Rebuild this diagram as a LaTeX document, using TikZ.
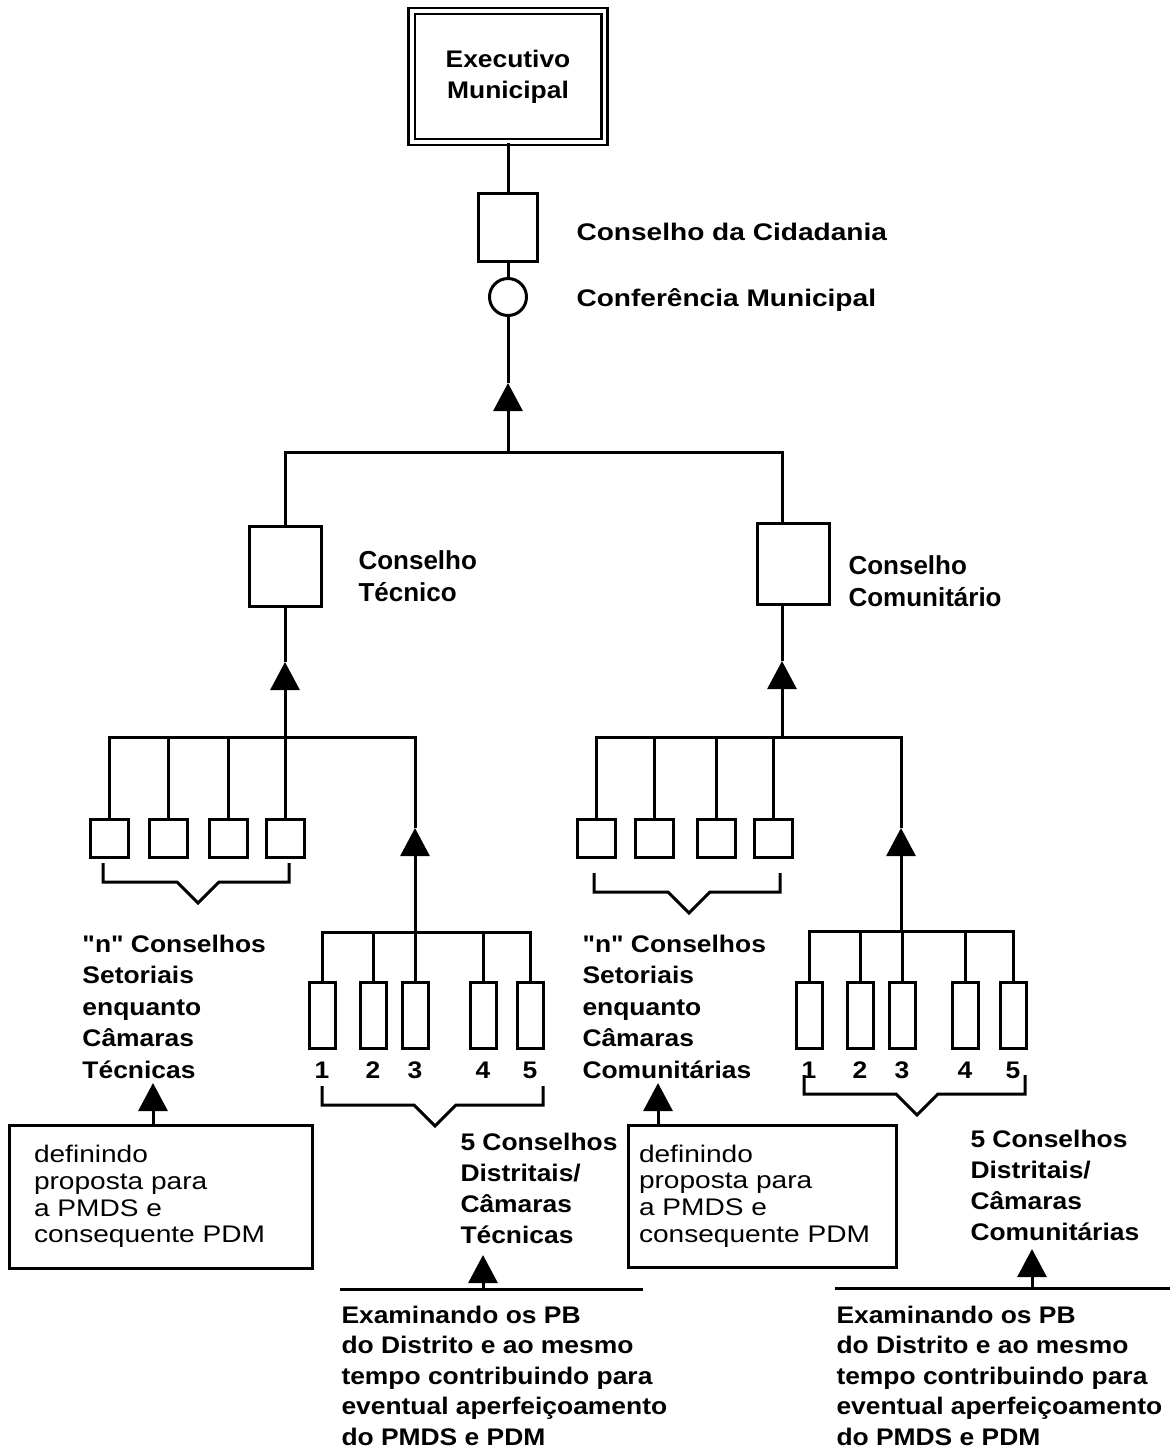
\documentclass[tikz,border=0pt]{standalone}
\usepackage{fontspec}
\setmainfont{Liberation Sans}[FakeStretch=1.1,Ligatures=TeXOff]
\newfontfamily\widefont{Liberation Sans}[FakeStretch=1.17,Ligatures=TeXOff]
\newfontfamily\flatfont{Liberation Sans}[Ligatures=TeXOff]
\usetikzlibrary{arrows.meta,positioning}

\tikzset{
  ubox/.style={draw, inner sep=0pt},
  cbox/.style={ubox, minimum width=36pt, minimum height=40pt},
  sbox/.style={ubox, minimum size=19pt},
  dbox/.style={ubox, minimum width=13pt, minimum height=33pt},
  headlbl/.style={font=\widefont\bfseries\fontsize{12}{15}\selectfont, inner sep=0pt, anchor=base west},
  cnslbl/.style={font=\flatfont\bfseries\fontsize{13}{16}\selectfont, align=left, anchor=north west, inner sep=0pt},
  lbl/.style={font=\bfseries\fontsize{12}{#1}\selectfont, align=left, anchor=north west, inner sep=0pt},
  lbl/.default=15.5pt,
  deftxt/.style={font=\widefont\fontsize{12}{13.35}\selectfont, align=left, inner sep=0pt},
  num/.style={font=\bfseries\fontsize{12}{14}\selectfont, inner sep=0pt},
  tipup/.style={-{Triangle[length=14pt,width=14.5pt]}}
}

\begin{document}
\begin{tikzpicture}[x=0.5pt,y=-0.5pt,line width=1.5pt]
\useasboundingbox (0,0) rectangle (1173,1453);
% --- top: executivo, conselho da cidadania, conferencia
\node[draw,double,double distance=1.8pt,line width=1.3pt,minimum width=96.3pt,minimum height=65.5pt,
  align=center,font=\bfseries\fontsize{12}{15.5}\selectfont] (exec) at (508,76.5) {Executivo\\Municipal\vphantom{y}};
\node[ubox,minimum width=29.5pt,minimum height=34pt] (cid) at (508,227) {};
\node[ubox,circle,minimum size=18.5pt] (conf) at (508,297) {};
\node[headlbl] (cidl) at (575,240) {Conselho da Cidadania};
\node[headlbl] (confl) at (575,306.7) {Conferência Municipal};
\draw (exec) -- (cid);
\draw (cid) -- (conf);
\coordinate (jT) at (508,452);
\coordinate (aT) at (508,383);
\coordinate (jC) at (782,452);
\draw[tipup] (jT) -- (aT);
\draw (aT) -- (conf);
% --- the two councils
\node[cbox] (tec) at (285,566) {};
\node[cbox,minimum height=40.5pt] (com) at (793,563.5) {};
\node[cnslbl] (tecl) at (357,548.7) {Conselho\\Técnico};
\node[cnslbl] (coml) at (847,553.7) {Conselho\\Comunitário};
\draw (tec.north) |- (jC) -- (com.north -| jC);
% --- left branch
\foreach \i/\x in {1/109,2/168,3/228,4/285} \node[sbox] (s\i) at (\x,838) {};
\coordinate (bL) at (415,737);
\coordinate (aL) at (285,662);
\coordinate (aL2) at (415,828);
\coordinate (dL) at (415,932);
\draw (s1.north) |- (bL) -- (aL2);
\foreach \i in {2,3} \draw (s\i.north) -- (s\i.north |- bL);
\draw[tipup] (s4.north) -- (aL);
\draw (aL) -- (tec.south);
\foreach \i/\x in {1/322,2/373,3/415,4/483,5/530}{
  \node[dbox] (d\i) at (\x,1015) {};
  \node[num,below=5.5pt of d\i] (nd\i) {\i};
}
\draw (d1.north) |- (dL) -| (d5.north);
\foreach \i in {2,3,4} \draw (d\i.north) -- (d\i.north |- dL);
\draw[tipup] (dL) -- (aL2);
% --- right branch
\foreach \i/\x in {1/596,2/654,3/716,4/773} \node[sbox] (c\i) at (\x,838) {};
\coordinate (jR) at (782,737);
\coordinate (aR) at (782,661);
\coordinate (bR) at (901,737);
\coordinate (aR2) at (901,828);
\coordinate (dR) at (901,931);
\draw[tipup] (jR) -- (aR);
\draw (aR) -- (com.south -| jR);
\draw (c1.north) |- (bR) -- (aR2);
\foreach \i in {2,3,4} \draw (c\i.north) -- (c\i.north |- bR);
\foreach \i/\x in {1/809,2/860,3/902,4/965,5/1013}{
  \node[dbox] (e\i) at (\x,1015) {};
  \node[num,below=5.5pt of e\i] (ne\i) {\i};
}
\draw (e1.north) |- (dR) -| (e5.north);
\foreach \i in {2,3,4} \draw (e\i.north) -- (e\i.north |- dR);
\draw[tipup] (dR) -- (aR2);
% --- group brackets
\foreach \l/\m/\r/\t in {103/198/289/863,322/435/543/1086,594/689/780/873,804/917/1025/1075}
  \draw (\l,\t) -- (\l,\t+19) -- (\m-21,\t+19) -- (\m,\t+40) -- (\m+21,\t+19) -- (\r,\t+19) -- (\r,\t);
% --- texts of the groups
\node[lbl=15.75pt] (nsL) at (81,933.4) {"n" Conselhos\\Setoriais\\enquanto\\Câmaras\\Técnicas};
\node[lbl=15.75pt] (nsR) at (581,933.4) {"n" Conselhos\\Setoriais\\enquanto\\Câmaras\\Comunitárias};
\node[lbl] (cdL) at (459,1131.4) {5 Conselhos\\Distritais/\\Câmaras\\Técnicas};
\node[lbl] (cdR) at (969,1128.4) {5 Conselhos\\Distritais/\\Câmaras\\Comunitárias};
% --- definindo boxes
\node[ubox,minimum width=151.5pt,minimum height=71.5pt] (defL) at (160.5,1196.5) {};
\node[deftxt,right=12.5pt of defL.west] (tdL) {definindo\\proposta para\\a PMDS e\\consequente PDM};
\node[ubox,minimum width=134pt,minimum height=71pt] (defR) at (762,1196) {};
\node[deftxt,right=5.5pt of defR.west] (tdR) {definindo\\proposta para\\a PMDS e\\consequente PDM};
\coordinate (aD1) at (153,1083);
\coordinate (aD2) at (658,1083);
\draw[tipup] (defL.north -| aD1) -- (aD1);
\draw[tipup] (defR.north -| aD2) -- (aD2);
% --- examinando
\coordinate (eL1) at (340,1289);
\coordinate (eL2) at (643,1289);
\coordinate (aE1) at (483,1255);
\coordinate (eR1) at (835,1288);
\coordinate (eR2) at (1170,1288);
\coordinate (aE2) at (1032,1249);
\draw (eL1) -- (eL2);
\draw (eR1) -- (eR2);
\draw[tipup] (aE1 |- eL1) -- (aE1);
\draw[tipup] (aE2 |- eR1) -- (aE2);
\node[lbl=15.25pt] (exL) at (340,1304.4) {Examinando os PB\\do Distrito e ao mesmo\\tempo contribuindo para\\eventual aperfeiçoamento\\do PMDS e PDM};
\node[lbl=15.25pt] (exR) at (835,1304.4) {Examinando os PB\\do Distrito e ao mesmo\\tempo contribuindo para\\eventual aperfeiçoamento\\do PMDS e PDM};
\end{tikzpicture}
\end{document}
